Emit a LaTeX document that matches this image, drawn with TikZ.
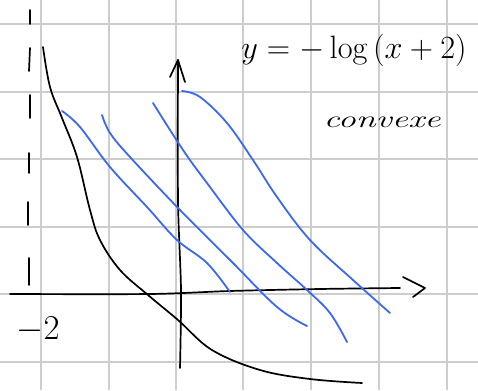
\documentclass[tikz,border=0pt]{standalone}
\usetikzlibrary{arrows.meta}
\begin{document}
\begin{tikzpicture}[x=1pt,y=-1pt,
  grid/.style={draw={rgb,255:red,205;green,205;blue,205},line width=1.6pt},
  ink/.style={draw=black,line width=1.7pt,line cap=round,line join=round},
  bluepen/.style={draw={rgb,255:red,60;green,105;blue,240},line width=1.8pt,line cap=round},
  hand/.style={font=\itshape}]
\useasboundingbox (0,0) rectangle (478,390);
\fill[white] (0,0) rectangle (478,390);
% grid
\foreach \x in {41,109,176,243,311,379,447} \draw[grid] (\x,0) -- (\x,390);
\foreach \y in {24,92,159,227,294,362} \draw[grid] (0,\y) -- (478,\y);
% dashed asymptote
\foreach \a/\b/\xa/\xb in {10/24/30/30, 48/71/30/29, 95/118/30/30, 153/173/29/29, 202/225/28/28, 258/285/29/29}
  \draw[ink] (\xa,\a) -- (\xb,\b);
% axes
\draw[ink] plot[smooth] coordinates {(10,294) (150,294) (230,291) (320,289) (400,288)};
\draw[ink] (403,277) -- (425,288) -- (413,297);
\draw[ink] plot[smooth] coordinates {(180,368) (181,290) (178,200) (178,60)};
\draw[ink] (170,77) -- (178,60) -- (185,82);
% black curve
\draw[ink] plot[smooth,tension=0.6] coordinates {(43,47) (50,87) (62,118) (77,157) (90,210) (100,240) (120,270) (148,295) (178,320) (212,350) (260,370) (310,379) (362,383)};
% blue curves
\draw[bluepen] plot[smooth,tension=0.6] coordinates {(62,111) (80,127) (110,167) (147,207) (177,240) (207,263) (230,292)};
\draw[bluepen] plot[smooth,tension=0.6] coordinates {(102,115) (110,133) (130,157) (180,210) (233,263) (277,307) (307,326)};
\draw[bluepen] plot[smooth,tension=0.6] coordinates {(153,103) (183,150) (207,183) (243,230) (277,263) (307,290) (330,313) (347,342)};
\draw[bluepen] plot[smooth,tension=0.6] coordinates {(182,91) (200,97) (227,123) (253,160) (277,197) (310,240) (353,280) (390,313)};
% texts
\node[font=\fontsize{24}{26}\selectfont,scale=1.3] (title) at (354,50) {$y=-\log\left(x+2\right)$};
\node[font=\fontsize{24}{26}\selectfont\itshape,xscale=1.5] (conv) at (382,122) {convexe};
\node[font=\fontsize{24}{26}\selectfont,scale=1.4] (m2) at (38,330) {$-2$};
\end{tikzpicture}
\end{document}
